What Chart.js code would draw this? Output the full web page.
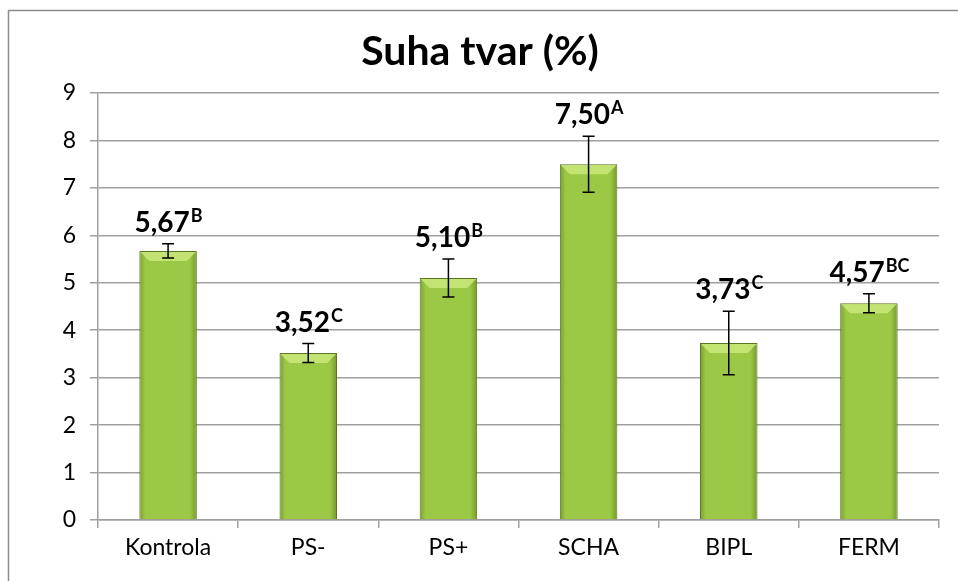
<!DOCTYPE html>
<html>
<head>
<meta charset="utf-8">
<script src="https://cdn.jsdelivr.net/npm/chart.js@4"></script>
<style>
  html, body { margin: 0; padding: 0; background: #fff; }
  canvas { display: block; }
</style>
</head>
<body>
<canvas id="chart" width="958" height="581"></canvas>
<script>
// Data
const categories = ['Kontrola', 'PS-', 'PS+', 'SCHA', 'BIPL', 'FERM'];
const means = [5.67, 3.52, 5.10, 7.50, 3.73, 4.57];
const errors = [0.15, 0.20, 0.40, 0.59, 0.67, 0.20];
const letters = ['B', 'C', 'B', 'A', 'C', 'BC'];
const yTicks = [0, 1, 2, 3, 4, 5, 6, 7, 8, 9];
const chartTitle = 'Suha tvar (%)';

const FONT = 'Lato, "Open Sans", sans-serif';
const GRID = '#a0a0a0';

// bar fill: lighter at the top, more olive at the bottom
function barFill(context) {
  const chart = context.chart;
  const bar = chart.getDatasetMeta(0).data[context.dataIndex];
  if (!bar || bar.base === undefined) return '#9bc845';
  const g = chart.ctx.createLinearGradient(0, bar.y, 0, bar.base);
  g.addColorStop(0, '#a9d14f');
  g.addColorStop(1, '#8aab3a');
  return g;
}

const frame = {
  id: 'frame',
  beforeDraw(chart) {
    const ctx = chart.ctx;
    ctx.save();
    ctx.fillStyle = '#fff';
    ctx.fillRect(0, 0, chart.width, chart.height);
    ctx.strokeStyle = '#8c8c8c';
    ctx.lineWidth = 1.5;
    ctx.strokeRect(8.5, 10.5, chart.width + 50, chart.height + 50);
    ctx.fillStyle = '#000';
    ctx.font = 'bold 41px ' + FONT;
    ctx.textAlign = 'center';
    ctx.textBaseline = 'alphabetic';
    ctx.fillText(chartTitle, 480, 65);
    ctx.restore();
  }
};

// bevel shading on bars, error bars and value labels
const extras = {
  id: 'extras',
  afterDatasetsDraw(chart) {
    const ctx = chart.ctx;
    const y = chart.scales.y;
    const meta = chart.getDatasetMeta(0);
    ctx.save();
    meta.data.forEach((bar, i) => {
      const left = bar.x - bar.width / 2;
      const right = bar.x + bar.width / 2;
      const top = bar.y;
      const bottom = bar.base;
      const b = 10;

      // side shading
      let g = ctx.createLinearGradient(left, 0, right, 0);
      g.addColorStop(0, 'rgba(60,80,10,0.35)');
      g.addColorStop(0.1, 'rgba(60,80,10,0.0)');
      g.addColorStop(0.88, 'rgba(60,80,10,0.0)');
      g.addColorStop(1, 'rgba(60,80,10,0.4)');
      ctx.fillStyle = g;
      ctx.fillRect(left + 1, top + 1, bar.width - 2, bottom - top - 1);

      // top bevel
      ctx.beginPath();
      ctx.moveTo(left + 1, top + 1);
      ctx.lineTo(right - 1, top + 1);
      ctx.lineTo(right - b, top + b);
      ctx.lineTo(left + b, top + b);
      ctx.closePath();
      ctx.fillStyle = 'rgba(205,235,125,0.8)';
      ctx.fill();

      // error bar
      const hi = y.getPixelForValue(means[i] + errors[i]);
      const lo = y.getPixelForValue(means[i] - errors[i]);
      ctx.strokeStyle = '#000';
      ctx.lineWidth = 1.5;
      ctx.beginPath();
      ctx.moveTo(bar.x, hi);
      ctx.lineTo(bar.x, lo);
      ctx.moveTo(bar.x - 6, hi);
      ctx.lineTo(bar.x + 6, hi);
      ctx.moveTo(bar.x - 6, lo);
      ctx.lineTo(bar.x + 6, lo);
      ctx.stroke();

      // label with superscript
      const main = means[i].toFixed(2).replace('.', ',');
      const mainFont = 'bold 28px ' + FONT;
      const supFont = 'bold 18px ' + FONT;
      ctx.font = mainFont;
      const wMain = ctx.measureText(main).width;
      ctx.font = supFont;
      const wSup = ctx.measureText(letters[i]).width;
      const startX = bar.x - (wMain + wSup) / 2;
      const base = hi - 12;
      ctx.fillStyle = '#000';
      ctx.textAlign = 'left';
      ctx.textBaseline = 'alphabetic';
      ctx.font = mainFont;
      ctx.fillText(main, startX, base);
      ctx.font = supFont;
      ctx.fillText(letters[i], startX + wMain + 1, base - 10);
    });
    ctx.restore();
  }
};

new Chart(document.getElementById('chart'), {
  type: 'bar',
  data: {
    labels: categories,
    datasets: [{
      data: means,
      backgroundColor: barFill,
      borderColor: '#5a7420',
      borderWidth: 1,
      barPercentage: 0.82,
      categoryPercentage: 0.5
    }]
  },
  options: {
    responsive: false,
    animation: false,
    layout: { padding: { top: 93, right: 19, left: 0, bottom: 0 } },
    plugins: {
      legend: { display: false },
      tooltip: { enabled: false }
    },
    scales: {
      x: {
        grid: {
          offset: true,
          drawOnChartArea: false,
          color: GRID,
          tickLength: 8,
          lineWidth: 1.5
        },
        border: { color: GRID, width: 1.5 },
        ticks: { color: '#000', font: { family: FONT, size: 23 }, padding: 6 },
        afterFit(scale) { scale.height = 61; }
      },
      y: {
        min: 0,
        max: 9,
        afterBuildTicks(scale) { scale.ticks = yTicks.map(v => ({ value: v })); },
        grid: { color: GRID, tickLength: 8, lineWidth: 1.5 },
        border: { color: GRID, width: 1.5 },
        ticks: { color: '#000', font: { family: FONT, size: 23 }, padding: 14 },
        afterFit(scale) { scale.width = 98; }
      }
    }
  },
  plugins: [frame, extras]
});
</script>
</body>
</html>
